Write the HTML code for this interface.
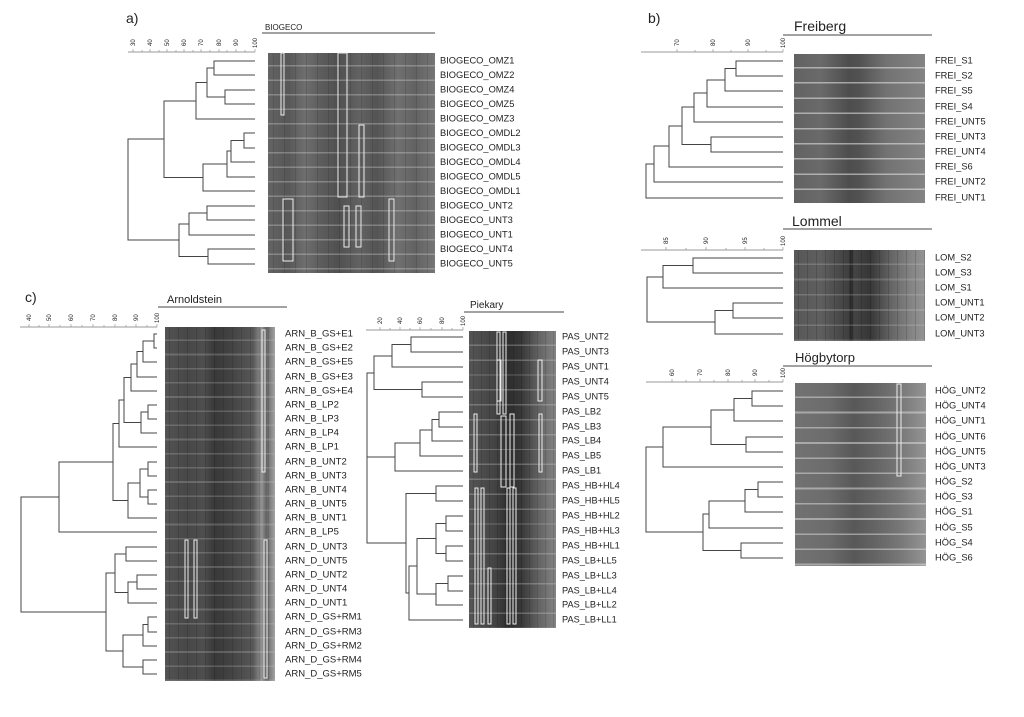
<!DOCTYPE html>
<html><head><meta charset="utf-8">
<style>
html,body{margin:0;padding:0;background:#fff;}
#w{position:relative;width:1024px;height:717px;overflow:hidden;background:#fff;}
.gel{position:absolute;}
svg{position:absolute;left:0;top:0;}
text{font-family:"Liberation Sans",Arial,sans-serif;fill:#222;}
.lb{font-size:9.5px;dominant-baseline:middle;}
.tk{font-size:6px;fill:#555;}
</style></head><body><div id="w">

<div class="gel" style="left:268px;top:53px;width:167px;height:220px;background:
repeating-linear-gradient(180deg,rgba(255,255,255,0) 0 12px,rgba(230,230,230,.3) 12px 13.5px,rgba(255,255,255,0) 13.5px 14.5px),
repeating-linear-gradient(90deg,rgba(0,0,0,0) 0 5px,rgba(0,0,0,.12) 5px 6px,rgba(0,0,0,0) 6px 11px),
linear-gradient(90deg,#646464 0%,#575757 12%,#6e6e6e 22%,#5c5c5c 32%,#505050 42%,#626262 55%,#545454 65%,#707070 78%,#626262 88%,#767676 100%);"></div>

<div class="gel" style="left:794px;top:54px;width:131px;height:149px;background:
repeating-linear-gradient(180deg,rgba(255,255,255,0) 0 13px,rgba(235,235,235,.55) 13px 14.5px,rgba(255,255,255,0) 14.5px 15.2px),
linear-gradient(90deg,#626262 0%,#6a6a6a 20%,#4d4d4d 42%,#525252 50%,#727272 70%,#848484 100%);"></div>

<div class="gel" style="left:794px;top:250px;width:131px;height:91px;background:
repeating-linear-gradient(180deg,rgba(255,255,255,0) 0 13.5px,rgba(200,200,200,.25) 13.5px 15.2px),
repeating-linear-gradient(90deg,rgba(0,0,0,0) 0 4px,rgba(0,0,0,.15) 4px 5px,rgba(0,0,0,0) 5px 9px),
linear-gradient(90deg,#575757 0%,#5f5f5f 20%,#3e3e3e 42%,#262626 43%,#444 46%,#363636 58%,#676767 75%,#858585 90%,#949494 100%);"></div>

<div class="gel" style="left:795px;top:383px;width:131px;height:183px;background:
repeating-linear-gradient(180deg,rgba(255,255,255,0) 0 13.5px,rgba(225,225,225,.5) 13.5px 15.2px),
linear-gradient(90deg,#727272 0%,#6c6c6c 25%,#585858 45%,#636363 60%,#777 80%,#949494 100%);"></div>

<div class="gel" style="left:165px;top:327px;width:110px;height:354px;background:
repeating-linear-gradient(180deg,rgba(255,255,255,0) 0 12.5px,rgba(200,200,200,.25) 12.5px 14.17px),
repeating-linear-gradient(90deg,rgba(0,0,0,0) 0 4px,rgba(0,0,0,.12) 4px 5px,rgba(0,0,0,0) 5px 9px),
linear-gradient(90deg,#535353 0%,#474747 20%,#4e4e4e 35%,#383838 45%,#434343 60%,#575757 80%,#939393 88%,#636363 92%,#a3a3a3 100%);"></div>

<div class="gel" style="left:469px;top:331px;width:87px;height:297px;background:
repeating-linear-gradient(180deg,rgba(255,255,255,0) 0 13.5px,rgba(210,210,210,.3) 13.5px 14.9px),
repeating-linear-gradient(90deg,rgba(0,0,0,0) 0 4px,rgba(0,0,0,.12) 4px 5px,rgba(0,0,0,0) 5px 8px),
linear-gradient(90deg,#555 0%,#434343 30%,#2d2d2d 45%,#373737 60%,#636363 80%,#848484 100%);"></div>

<svg width="1024" height="717" viewBox="0 0 1024 717">
<g fill="none" stroke="#444" stroke-width="1">
<path d="M255 61H214V75H255M255 90H225V104H255M214 68H207V97H225M207 82.5H196V119H255M255 133H244V148H255M244 140.5H231V162H255M231 151H227V177H255M227 164H203V191H255M196 101H164V177.5H203M255 206H207V220H255M207 213H189V235H255M255 249H208V264H255M189 224H179V256.5H208M164 139H128V240H179"/>
<path d="M783 61H736V76H783M736 68.5H725V91H783M725 80H707V107H783M707 93H694V122H783M783 137H711V152H783M694 107H682V144.5H711M682 126H669V167H783M669 146H654V182H783M654 164H646V198H783"/>
<path d="M783 258H693V273H783M693 265.5H663V288H783M783 303H733V318H783M733 310.5H715V334H783M663 277H647V322H715"/>
<path d="M783 391H752V406H783M752 398.5H734V421H783M783 437H746V452H783M734 410H711V444.5H746M711 427H663V467H783M783 482H758V497H783M758 489.5H745V512H783M745 501H709V528H783M783 543H741V558H783M709 514H703V550.5H741M663 447H646V532H703"/>
<path d="M157 334H154V348H157M154 341H143V362H157M143 351.5H137V377H157M137 364H131V391H157M157 405H148V419H157M148 412H141V433H157M131 377.5H124V422.5H141M124 400H119V447H157M157 462H148V476H157M157 490H148V504H157M148 469H140V497H148M140 483H128V518H157M119 423.5H113V500.5H128M113 462H59V532H157M157 547H126V561H157M157 575H137V589H157M137 582H128V603H157M126 554H115V592.5H128M157 617H148V632H157M148 624.5H143V646H157M157 660H143V674H157M143 635H123V667H143M115 573H106V651H123M59 497H21V612H106"/>
<path d="M463 337H411V352H463M411 344.5H392V367H463M463 382H422V397H463M392 356H374V389.5H422M463 412H439V427H463M439 419.5H432V441H463M432 430H420V456H463M420 443H395V471H463M463 486H436V501H463M463 516H446V531H463M463 546H446V561H463M446 523.5H436V553.5H446M463 576H448V591H463M448 583.5H436V605H463M436 538.5H417V594H436M417 566H409V620H463M436 493.5H406V593H409M374 373H367V543H406M395 457H367"/>
</g>

<g stroke="#777" stroke-width="0.8" fill="none">
<path d="M128 52H255M641 52H783M641 250H783M646 382H783M20 327H157M366 330H463"/>
</g>
<g stroke="#888" stroke-width="0.6">
<path d="M133 52v-3M142 52v-2M150 52v-3M159 52v-2M167 52v-3M176 52v-2M184 52v-3M193 52v-2M201 52v-3M210 52v-2M219 52v-3M227 52v-2M236 52v-3M245 52v-2M255 52v-3"/>
<path d="M677 52v-3M695 52v-2M713 52v-3M731 52v-2M748 52v-3M766 52v-2M783 52v-3"/>
<path d="M666 250v-3M686 250v-2M706 250v-3M726 250v-2M745 250v-3M764 250v-2M783 250v-3"/>
<path d="M672 382v-3M686 382v-2M700 382v-3M714 382v-2M728 382v-3M742 382v-2M755 382v-3M769 382v-2M783 382v-3"/>
<path d="M29 327v-3M39 327v-2M49 327v-3M60 327v-2M71 327v-3M82 327v-2M93 327v-3M104 327v-2M115 327v-3M126 327v-2M136 327v-3M147 327v-2M157 327v-3"/>
<path d="M380 330v-3M390 330v-2M400 330v-3M410 330v-2M420 330v-3M431 330v-2M442 330v-3M452 330v-2M463 330v-3"/>
</g>
<g class="tk">
<text transform="translate(135 46) rotate(-90)">30</text><text transform="translate(152 46) rotate(-90)">40</text><text transform="translate(169 46) rotate(-90)">50</text><text transform="translate(186 46) rotate(-90)">60</text><text transform="translate(203 46) rotate(-90)">70</text><text transform="translate(221 46) rotate(-90)">80</text><text transform="translate(238 46) rotate(-90)">90</text><text transform="translate(257 48) rotate(-90)">100</text>
<text transform="translate(679 46) rotate(-90)">70</text><text transform="translate(715 46) rotate(-90)">80</text><text transform="translate(750 46) rotate(-90)">90</text><text transform="translate(785 48) rotate(-90)">100</text>
<text transform="translate(668 244) rotate(-90)">85</text><text transform="translate(708 244) rotate(-90)">90</text><text transform="translate(747 244) rotate(-90)">95</text><text transform="translate(785 246) rotate(-90)">100</text>
<text transform="translate(674 376) rotate(-90)">60</text><text transform="translate(702 376) rotate(-90)">70</text><text transform="translate(730 376) rotate(-90)">80</text><text transform="translate(757 376) rotate(-90)">90</text><text transform="translate(785 378) rotate(-90)">100</text>
<text transform="translate(31 321) rotate(-90)">40</text><text transform="translate(51 321) rotate(-90)">50</text><text transform="translate(73 321) rotate(-90)">60</text><text transform="translate(95 321) rotate(-90)">70</text><text transform="translate(117 321) rotate(-90)">80</text><text transform="translate(138 321) rotate(-90)">90</text><text transform="translate(159 323) rotate(-90)">100</text>
<text transform="translate(382 324) rotate(-90)">20</text><text transform="translate(402 324) rotate(-90)">40</text><text transform="translate(422 324) rotate(-90)">60</text><text transform="translate(444 324) rotate(-90)">80</text><text transform="translate(465 326) rotate(-90)">100</text>
</g>

<g fill="none" stroke="#eee" stroke-width="1">
<rect x="281" y="53" width="3" height="62"/><rect x="338" y="53" width="9" height="144"/><rect x="359" y="125" width="5" height="72"/>
<rect x="283" y="199" width="10" height="62"/><rect x="344" y="206" width="5" height="41"/><rect x="356" y="206" width="5" height="41"/><rect x="389" y="199" width="5" height="62"/>
<rect x="897" y="384" width="4" height="92"/>
<rect x="262" y="330" width="3" height="142"/><rect x="185" y="540" width="3" height="78"/><rect x="194" y="540" width="3" height="78"/><rect x="264" y="540" width="3" height="138"/>
<rect x="497" y="332" width="3" height="82"/><rect x="503" y="332" width="3" height="82"/><rect x="497" y="360" width="4" height="41"/><rect x="538" y="360" width="4" height="41"/>
<rect x="474" y="414" width="3" height="58"/><rect x="501" y="416" width="5" height="71"/><rect x="510" y="414" width="4" height="73"/><rect x="539" y="414" width="3" height="58"/>
<rect x="475" y="488" width="3" height="136"/><rect x="481" y="488" width="3" height="136"/><rect x="488" y="568" width="3" height="56"/><rect x="507" y="488" width="3" height="136"/><rect x="513" y="488" width="3" height="136"/>
</g>

<g fill="none" stroke="#444" stroke-width="1">
<path d="M262 33H435M783 35H932M783 229H932M783 366H932M158 307H287M464 312H564"/>
</g>
<text x="126" y="23" style="font-size:14px">a)</text>
<text x="648" y="23" style="font-size:14px">b)</text>
<text x="25" y="302" style="font-size:14px">c)</text>
<text x="265" y="30" style="font-size:8px">BIOGECO</text>
<text x="794" y="31" style="font-size:14px">Freiberg</text>
<text x="792" y="226" style="font-size:14px">Lommel</text>
<text x="795" y="362" style="font-size:13px">Högbytorp</text>
<text x="167" y="303" style="font-size:11px">Arnoldstein</text>
<text x="470" y="308" style="font-size:10px">Piekary</text>

<g class="lb" style="font-size:9.3px">
<text x="440" y="61">BIOGECO_OMZ1</text><text x="440" y="75.5">BIOGECO_OMZ2</text><text x="440" y="90">BIOGECO_OMZ4</text><text x="440" y="104.5">BIOGECO_OMZ5</text><text x="440" y="119">BIOGECO_OMZ3</text><text x="440" y="133.5">BIOGECO_OMDL2</text><text x="440" y="148">BIOGECO_OMDL3</text><text x="440" y="162.5">BIOGECO_OMDL4</text><text x="440" y="177">BIOGECO_OMDL5</text><text x="440" y="191.5">BIOGECO_OMDL1</text><text x="440" y="206">BIOGECO_UNT2</text><text x="440" y="220.5">BIOGECO_UNT3</text><text x="440" y="235">BIOGECO_UNT1</text><text x="440" y="249.5">BIOGECO_UNT4</text><text x="440" y="264">BIOGECO_UNT5</text>
</g>
<g class="lb" style="font-size:9.3px">
<text x="935" y="61">FREI_S1</text><text x="935" y="76">FREI_S2</text><text x="935" y="91">FREI_S5</text><text x="935" y="107">FREI_S4</text><text x="935" y="122">FREI_UNT5</text><text x="935" y="137">FREI_UNT3</text><text x="935" y="152">FREI_UNT4</text><text x="935" y="167">FREI_S6</text><text x="935" y="182">FREI_UNT2</text><text x="935" y="198">FREI_UNT1</text>
<text x="935" y="258">LOM_S2</text><text x="935" y="273">LOM_S3</text><text x="935" y="288">LOM_S1</text><text x="935" y="303">LOM_UNT1</text><text x="935" y="318">LOM_UNT2</text><text x="935" y="334">LOM_UNT3</text>
<text x="935" y="391">HÖG_UNT2</text><text x="935" y="406">HÖG_UNT4</text><text x="935" y="421">HÖG_UNT1</text><text x="935" y="437">HÖG_UNT6</text><text x="935" y="452">HÖG_UNT5</text><text x="935" y="467">HÖG_UNT3</text><text x="935" y="482">HÖG_S2</text><text x="935" y="497">HÖG_S3</text><text x="935" y="512">HÖG_S1</text><text x="935" y="528">HÖG_S5</text><text x="935" y="543">HÖG_S4</text><text x="935" y="558">HÖG_S6</text>
</g>
<g class="lb" style="font-size:9.5px">
<text x="285" y="334">ARN_B_GS+E1</text><text x="285" y="348">ARN_B_GS+E2</text><text x="285" y="362">ARN_B_GS+E5</text><text x="285" y="377">ARN_B_GS+E3</text><text x="285" y="391">ARN_B_GS+E4</text><text x="285" y="405">ARN_B_LP2</text><text x="285" y="419">ARN_B_LP3</text><text x="285" y="433">ARN_B_LP4</text><text x="285" y="447">ARN_B_LP1</text><text x="285" y="462">ARN_B_UNT2</text><text x="285" y="476">ARN_B_UNT3</text><text x="285" y="490">ARN_B_UNT4</text><text x="285" y="504">ARN_B_UNT5</text><text x="285" y="518">ARN_B_UNT1</text><text x="285" y="532">ARN_B_LP5</text><text x="285" y="547">ARN_D_UNT3</text><text x="285" y="561">ARN_D_UNT5</text><text x="285" y="575">ARN_D_UNT2</text><text x="285" y="589">ARN_D_UNT4</text><text x="285" y="603">ARN_D_UNT1</text><text x="285" y="617">ARN_D_GS+RM1</text><text x="285" y="632">ARN_D_GS+RM3</text><text x="285" y="646">ARN_D_GS+RM2</text><text x="285" y="660">ARN_D_GS+RM4</text><text x="285" y="674">ARN_D_GS+RM5</text>
</g>
<g class="lb" style="font-size:9.2px">
<text x="562" y="337">PAS_UNT2</text><text x="562" y="352">PAS_UNT3</text><text x="562" y="367">PAS_UNT1</text><text x="562" y="382">PAS_UNT4</text><text x="562" y="397">PAS_UNT5</text><text x="562" y="412">PAS_LB2</text><text x="562" y="427">PAS_LB3</text><text x="562" y="441">PAS_LB4</text><text x="562" y="456">PAS_LB5</text><text x="562" y="471">PAS_LB1</text><text x="562" y="486">PAS_HB+HL4</text><text x="562" y="501">PAS_HB+HL5</text><text x="562" y="516">PAS_HB+HL2</text><text x="562" y="531">PAS_HB+HL3</text><text x="562" y="546">PAS_HB+HL1</text><text x="562" y="561">PAS_LB+LL5</text><text x="562" y="576">PAS_LB+LL3</text><text x="562" y="591">PAS_LB+LL4</text><text x="562" y="605">PAS_LB+LL2</text><text x="562" y="620">PAS_LB+LL1</text>
</g>
</svg>
</div></body></html>
